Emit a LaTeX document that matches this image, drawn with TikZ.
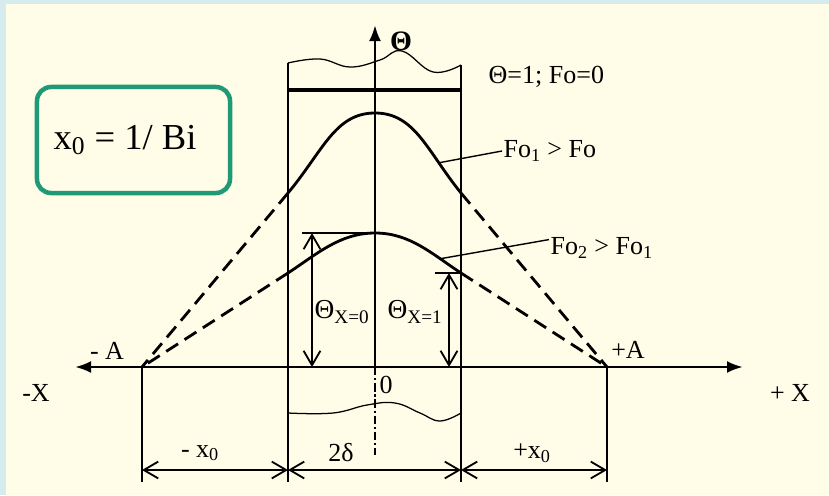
\documentclass[tikz,border=0pt]{standalone}
\usepackage{fontspec}
\setmainfont{Liberation Serif}
\usepackage{xcolor}
\usetikzlibrary{arrows.meta,positioning,calc}
\definecolor{frameblue}{HTML}{D5EBEE}
\definecolor{paper}{HTML}{FFFDE8}
\definecolor{boxgreen}{HTML}{1F9A76}

\begin{document}
\begin{tikzpicture}[
    x=0.025cm, y=-0.025cm,
    font=\fontsize{18.5}{22}\selectfont,
    lbl/.style={inner sep=1pt},
    axis/.style={line width=2pt, >={Latex[length=4mm,width=3mm]}},
    curve/.style={line width=2pt},
    tangent/.style={line width=2pt, dash pattern=on 10pt off 5.5pt},
    wall/.style={line width=1.2pt},
    wave/.style={line width=0.9pt},
    dim/.style={{Straight Barb[length=3.6mm,width=4.2mm]}-{Straight Barb[length=3.6mm,width=4.2mm]}, line width=1.3pt},
    lead/.style={line width=1pt}
]
\useasboundingbox (0,0) rectangle (829,495);
\fill[frameblue] (0,0) rectangle (829,495);
\fill[paper] (6,4) rectangle (829,495);

\coordinate (O) at (375,367);
\coordinate (xl) at (75,367);
\coordinate (xr) at (743,367);
\coordinate (ttop) at (375,25);
\coordinate (Am) at (142,367);
\coordinate (Ap) at (607,367);
\coordinate (wlt) at (288,63);
\coordinate (wlb) at (288,482);
\coordinate (wrt) at (461,65);
\coordinate (wrb) at (461,482);
\coordinate (c1l) at (288,193);
\coordinate (c1t) at (375,113);
\coordinate (c1r) at (461,193);
\coordinate (c2l) at (288,273);
\coordinate (c2t) at (375,233);
\coordinate (c2r) at (461,273);
\coordinate (d1) at (142,470);
\coordinate (d2) at (288,470);
\coordinate (d3) at (461,470);
\coordinate (d4) at (607,470);

\draw[wall] (wlt) -- (wlb);
\draw[wall] (wrt) -- (wrb);
\draw[wall] (Am) -- (142,482);
\draw[wall] (Ap) -- (607,482);
\draw[wave] plot[smooth, tension=0.7] coordinates {(288,63) (320,59) (350,67) (380,60) (402,51) (433,72) (461,65)};
\draw[wave] plot[smooth, tension=0.7] coordinates {(288,413) (333,413) (367,405) (395,403) (420,413) (440,421) (461,413)};
\draw[line width=2.4pt] (288,90) -- (461,90);

\draw[axis, <->] (xl) -- (xr);
\draw[axis, ->] (O) -- (ttop);
\draw[line width=1pt, dash pattern=on 6pt off 2pt on 1.5pt off 2pt] (O) -- (375,455);

\draw[curve] (c1l) .. controls (323,151) and (335,113) .. (c1t)
    .. controls (415,113) and (427,151) .. (c1r) coordinate[pos=0.75] (f1);
\draw[curve] (c2l) .. controls (317,254) and (340,233) .. (c2t)
    .. controls (410,233) and (432,254) .. (c2r) coordinate[pos=0.75] (f2);
\draw[tangent] (c1l) -- (Am);
\draw[tangent] (c1r) -- (Ap);
\draw[tangent] (c2l) -- (Am);
\draw[tangent] (c2r) -- (Ap);

\draw[wall] (302,233) -- (c2t);
\draw[wall] (435,273) -- (c2r);
\draw[dim] (312,233) -- (312,367);
\draw[dim] (449,273) -- (449,367);
\draw[dim] (d1) -- (d2);
\draw[dim] (d2) -- (d3);
\draw[dim] (d3) -- (d4);

\node[lbl, font=\fontsize{20}{24}\selectfont\bfseries] (theta) at (401,41) {Θ};
\node[lbl, anchor=west] (init) at (487,77) {Θ=1; Fo=0};
\node[lbl, anchor=west] (fo1) at (502,151) {Fo\textsubscript{1} > Fo};
\node[lbl, anchor=west] (fo2) at (549,248) {Fo\textsubscript{2} > Fo\textsubscript{1}};
\draw[lead] (f1) -- (fo1.west);
\draw[lead] (f2) -- ([yshift=6pt]fo2.west);
\node[lbl, font=\fontsize{19.5}{22}\selectfont] (thx0) at (342,312) {Θ\textsubscript{X=0}};
\node[lbl, font=\fontsize{19.5}{22}\selectfont] (thx1) at (415,312) {Θ\textsubscript{X=1}};
\node[lbl] (amlbl) at (107,351) {- A};
\node[lbl] (aplbl) at (628,350) {+A};
\node[lbl] (xneg) at (36,393) {-X};
\node[lbl] (xpos) at (790,393) {+ X};
\node[lbl, anchor=west] (zero) at (378,385) {0};
\node[lbl] (dl) at (200,453) {- x\textsubscript{0}};
\node[lbl] (dc) at (341,453) {2δ};
\node[lbl] (dr) at (532,453) {+x\textsubscript{0}};

\node[draw=boxgreen, line width=3.2pt, rounded corners=10pt, minimum width=4.825cm, minimum height=2.65cm,
    font=\fontsize{26}{30}\selectfont] (bibox) at (133.5,140) {x\textsubscript{0} = 1/ Bi\hspace*{12pt}};
\end{tikzpicture}
\end{document}
